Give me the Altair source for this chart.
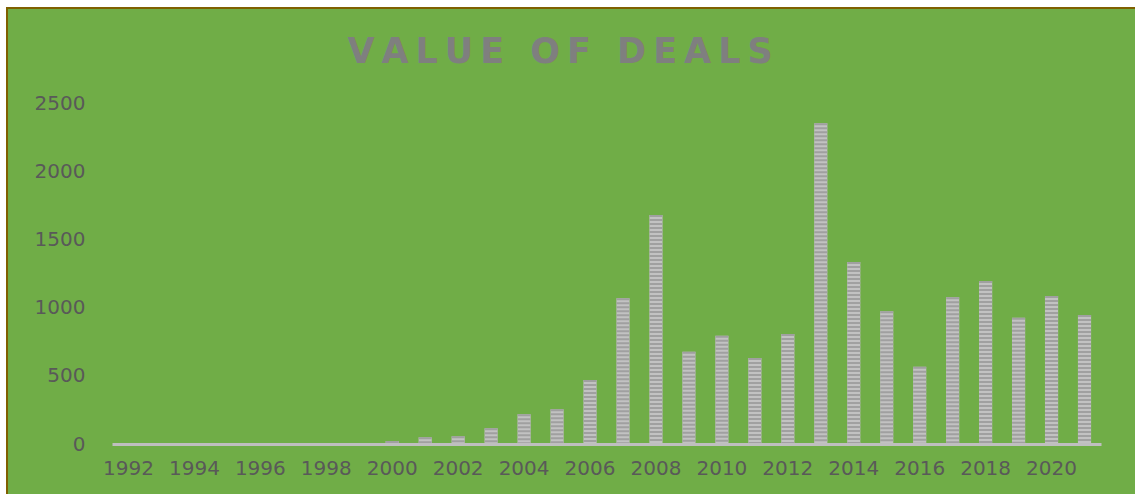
import altair as alt
import pandas as pd

years = [str(y) for y in range(1992, 2022)]
values = [0, 0, 0, 0, 0, 0, 0, 0,
          22, 49, 56, 115, 218, 254, 470, 1068, 1679, 677, 794, 630,
          806, 2351, 1334, 973, 567, 1075, 1195, 926, 1085, 946]
label_years = [str(y) for y in range(1992, 2022, 2)]
title_text = "\u2009".join(list("VALUE")) + "\u2009 \u2009" + "\u2009".join(list("OF")) + "\u2009 \u2009" + "\u2009".join(list("DEALS"))

df = pd.DataFrame({"year": years, "value": values})

FONT = "DejaVu Sans"
W, H = 989, 341
PL, PT, PR, PB = 112, 103, 34, 50
one = pd.DataFrame({"a": [0]})

xscale = alt.Scale(domain=years, paddingInner=0.6, paddingOuter=0.3)
yscale = alt.Scale(domain=[0, 2500], nice=False)

background = alt.Chart(one).mark_rect(fill="#70AD47").encode(
    x=alt.value(7 - PL), x2=alt.value(W + PR),
    y=alt.value(8 - PT), y2=alt.value(H + PB),
)
border_left = alt.Chart(one).mark_rule(color="#7F6000", strokeWidth=2).encode(
    x=alt.value(7 - PL), y=alt.value(7 - PT), y2=alt.value(H + PB),
)
border_top = alt.Chart(one).mark_rule(color="#7F6000", strokeWidth=2).encode(
    x=alt.value(6 - PL), x2=alt.value(W + PR), y=alt.value(8 - PT),
)

title = alt.Chart(one).mark_text(
    text=title_text, font=FONT, fontSize=35, fontWeight="bold",
    color="#7F7F7F", align="center", baseline="alphabetic",
).encode(x=alt.value(448), y=alt.value(-40))

bars = alt.Chart(df).mark_bar(color="#C2C2C2").encode(
    x=alt.X("year:N", scale=xscale, sort=years,
            axis=alt.Axis(values=label_years, title=None, labelAngle=0,
                          domainColor="#BFBFBF", domainWidth=3, ticks=False,
                          labelFont=FONT, labelFontSize=20, labelColor="#595959",
                          labelPadding=14, zindex=1)),
    y=alt.Y("value:Q", scale=yscale,
            axis=alt.Axis(values=[0, 500, 1000, 1500, 2000, 2500], title=None,
                          format="d", domain=False, ticks=False, grid=False,
                          labelFont=FONT, labelFontSize=20, labelColor="#595959",
                          labelPadding=27, zindex=1)),
)

stripes = alt.Chart(df).mark_rule(
    color="#A0A0A0", strokeWidth=13, strokeDash=[2, 2], strokeCap="butt"
).encode(
    x=alt.X("year:N", scale=xscale, sort=years),
    y=alt.Y("value:Q", scale=yscale),
    y2=alt.datum(0),
)

chart = alt.layer(background, border_left, border_top, title, bars, stripes).properties(
    width=W, height=H,
    autosize=alt.AutoSizeParams(type="none"),
    padding={"left": PL, "top": PT, "right": PR, "bottom": PB},
    background="white",
).configure_view(stroke=None)

chart.save("out.html", embed_options={"renderer": "svg", "actions": False})
